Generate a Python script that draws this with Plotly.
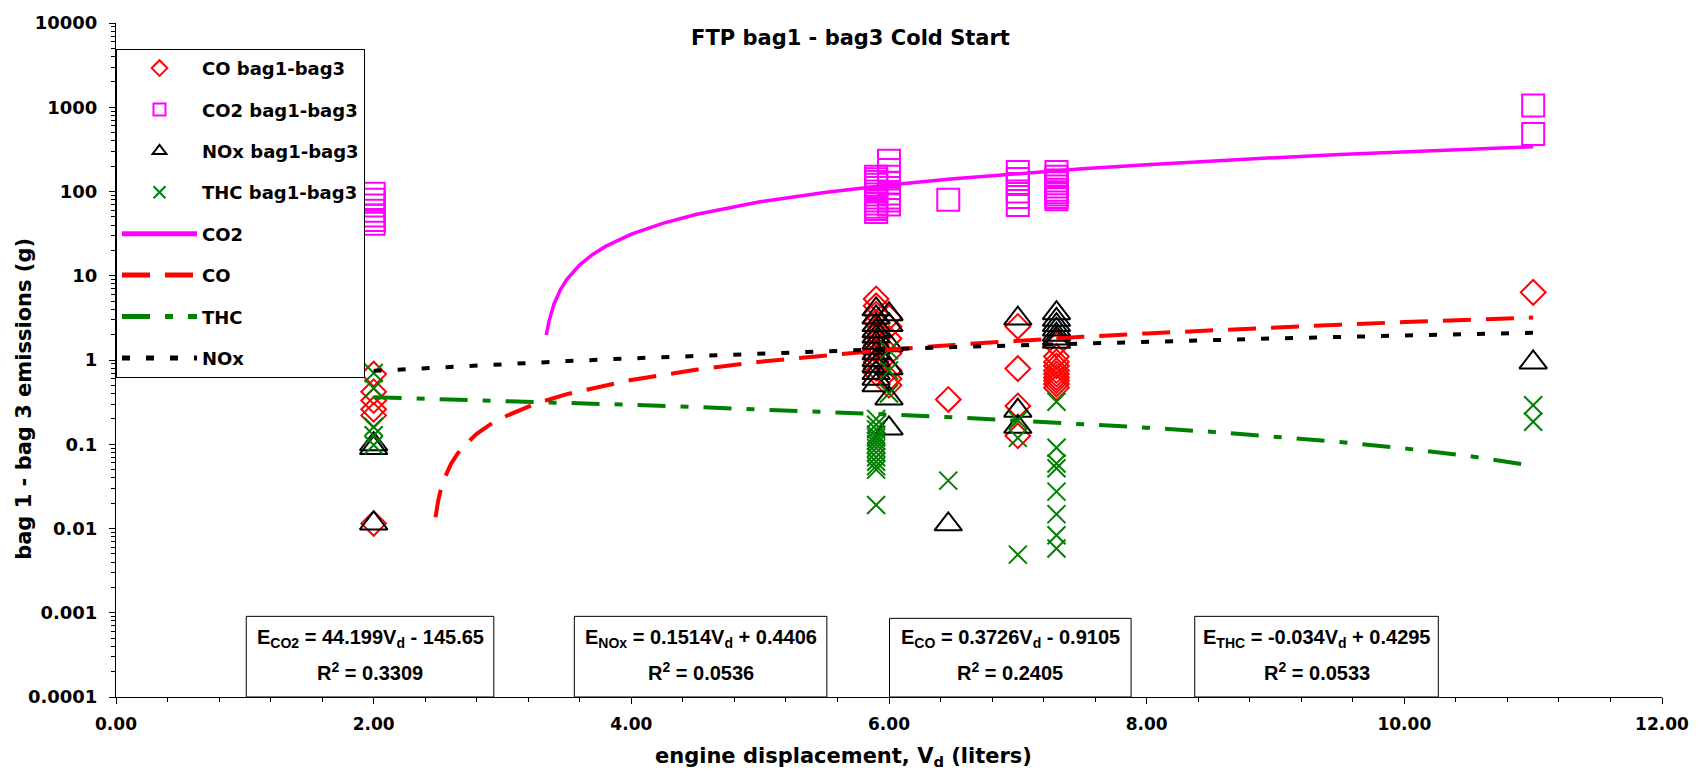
import plotly.graph_objects as go

# ---------------- data ----------------
co_x = [2.0, 2.0, 2.0, 2.0, 2.0, 2.0,
        5.9, 5.9, 5.9, 5.9, 5.9, 5.9, 5.9, 5.9, 5.9, 5.9, 5.9, 5.9, 5.9,
        6.0, 6.0, 6.0, 6.0, 6.0, 6.0, 6.0,
        6.46,
        7.0, 7.0, 7.0, 7.0,
        7.3, 7.3, 7.3, 7.3, 7.3, 7.3, 7.3, 7.3, 7.3, 7.3,
        11.0]
co_y = [0.68, 0.42, 0.33, 0.26, 0.22, 0.0115,
        5.3, 4.4, 3.5, 2.8, 2.3, 2.0, 1.7, 1.5, 1.3, 1.1, 0.95, 0.8, 0.7,
        3.2, 2.5, 1.8, 1.2, 0.75, 0.6, 0.5,
        0.34,
        2.5, 0.79, 0.285, 0.126,
        1.5, 1.1, 0.95, 0.85, 0.75, 0.68, 0.62, 0.57, 0.52, 0.47,
        6.35]

co2_x = [2.0, 2.0, 2.0, 2.0, 2.0, 2.0, 2.0,
         5.9, 5.9, 5.9, 5.9, 5.9, 5.9, 5.9, 5.9, 5.9, 5.9, 5.9, 5.9, 5.9,
         6.0, 6.0, 6.0, 6.0, 6.0, 6.0, 6.0, 6.0, 6.0,
         6.46,
         7.0, 7.0, 7.0, 7.0, 7.0, 7.0,
         7.3, 7.3, 7.3, 7.3, 7.3, 7.3, 7.3, 7.3, 7.3, 7.3,
         11.0, 11.0]
co2_y = [94, 80, 68, 59, 52, 46, 41.5,
         150, 140, 130, 120, 110, 100, 92, 85, 78, 72, 66, 62, 57,
         232, 180, 150, 125, 110, 95, 85, 78, 70,
         80,
         170, 141, 123, 100, 86, 69,
         170, 150, 135, 125, 115, 105, 98, 92, 86, 81,
         1050, 480]

nox_x = [2.0, 2.0, 2.0,
         5.9, 5.9, 5.9, 5.9, 5.9, 5.9, 5.9, 5.9, 5.9, 5.9, 5.9, 5.9, 5.9,
         6.0, 6.0, 6.0, 6.0, 6.0, 6.0,
         6.46,
         7.0, 7.0, 7.0,
         7.3, 7.3, 7.3, 7.3, 7.3, 7.3, 7.3,
         11.0]
nox_y = [0.1, 0.09, 0.0115,
         4.0, 3.2, 2.6, 2.2, 1.9, 1.6, 1.4, 1.2, 1.0, 0.85, 0.7, 0.6, 0.5,
         3.5, 2.6, 1.5, 0.8, 0.35, 0.154,
         0.0112,
         3.1, 0.25, 0.161,
         3.6, 3.0, 2.6, 2.3, 2.0, 1.8, 1.65,
         0.935]

thc_x = [2.0, 2.0, 2.0, 2.0, 2.0,
         5.9, 5.9, 5.9, 5.9, 5.9, 5.9, 5.9, 5.9, 5.9, 5.9, 5.9, 5.9, 5.9, 5.9,
         6.0, 6.0, 6.0,
         6.46,
         7.0, 7.0, 7.0,
         7.3, 7.3, 7.3, 7.3, 7.3, 7.3, 7.3, 7.3,
         11.0, 11.0]
thc_y = [0.7, 0.46, 0.16, 0.128, 0.098,
         0.2, 0.17, 0.15, 0.13, 0.12, 0.11, 0.1, 0.09, 0.08, 0.07, 0.062, 0.055, 0.05, 0.019,
         1.3, 0.75, 0.4,
         0.037,
         0.193, 0.119, 0.0049,
         0.32, 0.091, 0.059, 0.052, 0.0274, 0.0148, 0.0083, 0.0058,
         0.29, 0.185]

# fitted-line series
co2_line_x = [3.34, 3.36, 3.4, 3.45, 3.5, 3.6, 3.7, 3.8, 4.0, 4.25, 4.5, 5.0, 5.5,
              6.0, 6.5, 7.0, 7.5, 8.0, 8.5, 9.0, 9.5, 10.0, 10.5, 11.0]
co2_line_y = [1.98, 2.86, 4.63, 6.84, 9.05, 13.5, 17.9, 22.3, 31.2, 42.2, 53.3, 75.4, 97.4,
              119.5, 141.6, 163.7, 185.8, 207.9, 230.0, 252.1, 274.2, 296.3, 318.4, 340.5]

co_line_x = [2.48, 2.49, 2.5, 2.52, 2.55, 2.6, 2.65, 2.7, 2.8, 2.9, 3.0, 3.25, 3.5,
             4.0, 4.5, 5.0, 5.5, 6.0, 6.5, 7.0, 7.5, 8.0, 8.5, 9.0, 9.5, 10.0, 10.5, 11.0]
co_line_y = [0.0136, 0.0173, 0.021, 0.0285, 0.0396, 0.0583, 0.0769, 0.0955, 0.133, 0.170,
             0.207, 0.301, 0.394, 0.580, 0.766, 0.953, 1.139, 1.325, 1.511, 1.698, 1.884,
             2.070, 2.257, 2.443, 2.629, 2.816, 3.002, 3.188]

thc_line_x = [2.0, 2.5, 3.0, 3.5, 4.0, 4.5, 5.0, 5.5, 6.0, 6.5, 7.0, 7.5, 8.0, 8.5,
              9.0, 9.5, 10.0, 10.5, 11.0]
thc_line_y = [0.3615, 0.3445, 0.3275, 0.3105, 0.2935, 0.2765, 0.2595, 0.2425, 0.2255,
              0.2085, 0.1915, 0.1745, 0.1575, 0.1405, 0.1235, 0.1065, 0.0895, 0.0725, 0.0555]

nox_line_x = [2.0, 2.5, 3.0, 3.5, 4.0, 4.5, 5.0, 5.5, 6.0, 6.5, 7.0, 7.5, 8.0, 8.5,
              9.0, 9.5, 10.0, 10.5, 11.0]
nox_line_y = [0.7434, 0.8191, 0.8948, 0.9705, 1.0462, 1.1219, 1.1976, 1.2733, 1.349,
              1.4247, 1.5004, 1.5761, 1.6518, 1.7275, 1.8032, 1.8789, 1.9546, 2.0303, 2.106]

x_tick_vals = [0, 2, 4, 6, 8, 10, 12]
x_tick_text = ["0.00", "2.00", "4.00", "6.00", "8.00", "10.00", "12.00"]
y_tick_vals = [0.0001, 0.001, 0.01, 0.1, 1, 10, 100, 1000, 10000]
y_tick_text = ["0.0001", "0.001", "0.01", "0.1", "1", "10", "100", "1000", "10000"]

fit_labels = [
    ("E<sub>CO2</sub> = 44.199V<sub>d</sub> - 145.65", "R<sup>2</sup> = 0.3309"),
    ("E<sub>NOx</sub> = 0.1514V<sub>d</sub> + 0.4406", "R<sup>2</sup> = 0.0536"),
    ("E<sub>CO</sub> = 0.3726V<sub>d</sub> - 0.9105", "R<sup>2</sup> = 0.2405"),
    ("E<sub>THC</sub> = -0.034V<sub>d</sub> + 0.4295", "R<sup>2</sup> = 0.0533"),
]

# ---------------- styling ----------------
FONT = "DejaVu Sans"
BOXFONT = "Liberation Sans"
RED = "#FF0000"
MAG = "#FF00FF"
GREEN = "#008000"
BLACK = "#000000"

fig = go.Figure()

fig.add_trace(go.Scatter(x=co_x, y=co_y, mode="markers", name="CO bag1-bag3",
                         legendgroup="g1",
                         marker=dict(symbol="diamond-open", size=19, color=RED,
                                     line=dict(width=2, color=RED))))
fig.add_trace(go.Scatter(x=co2_x, y=co2_y, mode="markers", name="CO2 bag1-bag3",
                         legendgroup="g2",
                         marker=dict(symbol="square-open", size=22, color=MAG,
                                     line=dict(width=2, color=MAG))))
fig.add_trace(go.Scatter(x=nox_x, y=nox_y, mode="markers", name="NOx bag1-bag3",
                         legendgroup="g3",
                         marker=dict(symbol="triangle-up-open", size=24, color=BLACK,
                                     line=dict(width=2, color=BLACK))))
fig.add_trace(go.Scatter(x=thc_x, y=thc_y, mode="markers", name="THC bag1-bag3",
                         legendgroup="g4",
                         marker=dict(symbol="x-thin-open", size=18, color=GREEN,
                                     line=dict(width=2, color=GREEN))))

fig.add_trace(go.Scatter(x=co2_line_x, y=co2_line_y, mode="lines", name="CO2",
                         legendgroup="g5", line=dict(color=MAG, width=3.5)))
fig.add_trace(go.Scatter(x=co_line_x, y=co_line_y, mode="lines", name="CO",
                         legendgroup="g6",
                         line=dict(color=RED, width=4, dash="28px,15px")))
fig.add_trace(go.Scatter(x=thc_line_x, y=thc_line_y, mode="lines", name="THC",
                         legendgroup="g7",
                         line=dict(color=GREEN, width=4, dash="28px,15px,8px,15px")))
fig.add_trace(go.Scatter(x=nox_line_x, y=nox_line_y, mode="lines", name="NOx",
                         legendgroup="g8",
                         line=dict(color=BLACK, width=4, dash="8px,16px")))

# plot-area geometry in px (for paper-coordinate placement)
L, R, T, B = 116, 30, 20, 85
W, H = 1701, 782
PW, PH = W - L - R, H - T - B


def px_x(p):
    return (p - L) / PW


def px_y(p):
    return (H - B - p) / PH


shapes = []
annotations = []
boxes = [(247, 496, 616), (577, 831, 616), (894, 1137, 618), (1201, 1446, 616)]
for (x0, x1, ytop), (l1, l2) in zip(boxes, fit_labels):
    shapes.append(dict(type="rect", xref="paper", yref="paper",
                       x0=px_x(x0), x1=px_x(x1), y0=0, y1=px_y(ytop),
                       line=dict(color="black", width=1), fillcolor="white",
                       layer="below"))
    cx = px_x((x0 + x1) / 2)
    annotations.append(dict(xref="paper", yref="paper", x=cx, y=px_y(638),
                            xanchor="center", yanchor="middle", showarrow=False,
                            text=l1, font=dict(family=BOXFONT, size=20,
                                               color="black", weight="bold")))
    annotations.append(dict(xref="paper", yref="paper", x=cx, y=px_y(671),
                            xanchor="center", yanchor="middle", showarrow=False,
                            text=l2, font=dict(family=BOXFONT, size=20,
                                               color="black", weight="bold")))

# axis titles (centred on the chart area as in the reference)
annotations.append(dict(xref="paper", yref="paper", x=px_x(848), y=px_y(757),
                        xanchor="center", yanchor="middle", showarrow=False,
                        text="engine displacement, V<sub>d</sub> (liters)",
                        font=dict(family=FONT, size=21, color="black", weight="bold")))
annotations.append(dict(xref="paper", yref="paper", x=px_x(24), y=px_y(398),
                        xanchor="center", yanchor="middle", showarrow=False,
                        textangle=-90,
                        text="bag 1 - bag 3 emissions (g)",
                        font=dict(family=FONT, size=21, color="black", weight="bold")))

minor_y = [k * 10 ** e for e in range(-4, 4) for k in range(2, 10)]

fig.update_layout(
    width=W, height=H,
    margin=dict(l=L, r=R, t=T, b=B),
    paper_bgcolor="white", plot_bgcolor="white",
    title=dict(text="FTP bag1 - bag3 Cold Start", xref="container", x=0.5,
               xanchor="center", y=1 - 38 / H, yanchor="middle",
               font=dict(family=FONT, size=21, color="black", weight="bold")),
    showlegend=True,
    legend=dict(x=0, y=px_y(46), xanchor="left", yanchor="top",
                bordercolor="black", borderwidth=1, bgcolor="white",
                font=dict(family=FONT, size=18, color="black", weight="bold"),
                itemsizing="constant", tracegroupgap=15, itemwidth=75,
                traceorder="grouped"),
    xaxis=dict(range=[0, 12], showgrid=False, zeroline=False, showline=True,
               linecolor="black", linewidth=1, mirror=False,
               ticks="outside", ticklen=6, tickcolor="black",
               tickvals=x_tick_vals, ticktext=x_tick_text,
               ticklabelstandoff=6,
               tickfont=dict(family=FONT, size=17, color="black", weight="bold"),
               minor=dict(tickmode="linear", tick0=0, dtick=0.4, ticks="outside",
                          ticklen=4, tickcolor="black", showgrid=False)),
    yaxis=dict(type="log", range=[-4, 4], showgrid=False, zeroline=False,
               showline=True, linecolor="black", linewidth=1,
               ticks="outside", ticklen=6, tickcolor="black",
               tickvals=y_tick_vals, ticktext=y_tick_text,
               ticklabelstandoff=8,
               tickfont=dict(family=FONT, size=18, color="black", weight="bold"),
               minor=dict(tickvals=minor_y, ticks="outside", ticklen=4,
                          tickcolor="black", showgrid=False)),
    shapes=shapes,
    annotations=annotations,
)

fig.write_html("out.html")
